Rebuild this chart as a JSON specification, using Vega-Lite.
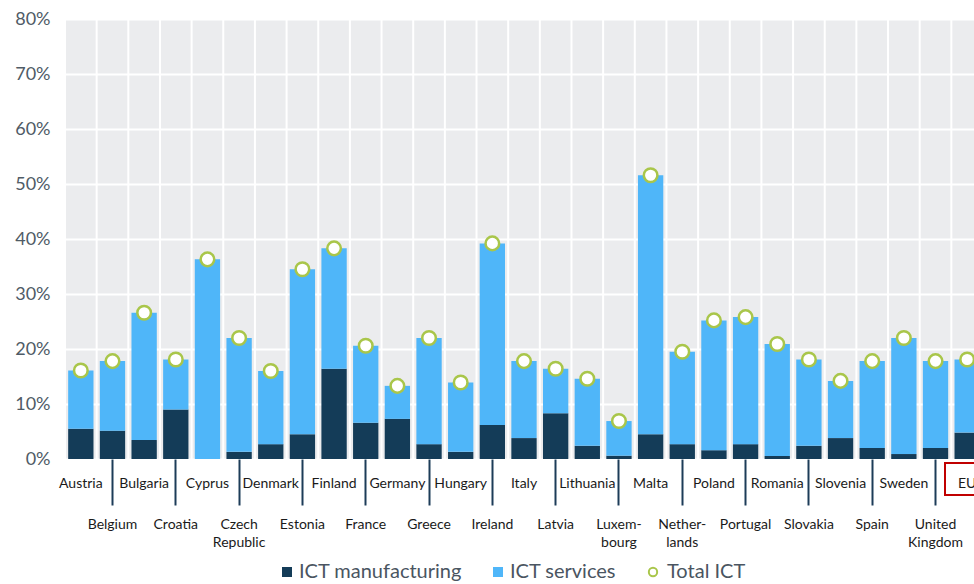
{
  "$schema": "https://vega.github.io/schema/vega-lite/v6.json",
  "width": 909,
  "height": 440,
  "autosize": {"type": "none"},
  "padding": {"left": 65, "top": 19, "right": 0, "bottom": 125},
  "background": "white",
  "config": {"view": {"fill": "#EBECEE", "stroke": null}, "font": "Lato"},
  "data": {"values": [
    {"country": "Austria", "manufacturing": 5.5, "services": 10.6, "total": 16.1},
    {"country": "Belgium", "manufacturing": 5.15, "services": 12.65, "total": 17.8},
    {"country": "Bulgaria", "manufacturing": 3.45, "services": 23.15, "total": 26.6},
    {"country": "Croatia", "manufacturing": 9.0, "services": 9.1, "total": 18.1},
    {"country": "Cyprus", "manufacturing": 0, "services": 36.3, "total": 36.3},
    {"country": "Czech Republic", "manufacturing": 1.3, "services": 20.7, "total": 22.0},
    {"country": "Denmark", "manufacturing": 2.7, "services": 13.3, "total": 16.0},
    {"country": "Estonia", "manufacturing": 4.5, "services": 30.0, "total": 34.5},
    {"country": "Finland", "manufacturing": 16.4, "services": 21.9, "total": 38.3},
    {"country": "France", "manufacturing": 6.6, "services": 14.0, "total": 20.6},
    {"country": "Germany", "manufacturing": 7.3, "services": 6.0, "total": 13.3},
    {"country": "Greece", "manufacturing": 2.7, "services": 19.3, "total": 22.0},
    {"country": "Hungary", "manufacturing": 1.3, "services": 12.6, "total": 13.9},
    {"country": "Ireland", "manufacturing": 6.2, "services": 33.0, "total": 39.2},
    {"country": "Italy", "manufacturing": 3.8, "services": 14.0, "total": 17.8},
    {"country": "Latvia", "manufacturing": 8.3, "services": 8.1, "total": 16.4},
    {"country": "Lithuania", "manufacturing": 2.4, "services": 12.2, "total": 14.6},
    {"country": "Luxembourg", "manufacturing": 0.6, "services": 6.3, "total": 6.9},
    {"country": "Malta", "manufacturing": 4.5, "services": 47.1, "total": 51.6},
    {"country": "Netherlands", "manufacturing": 2.7, "services": 16.8, "total": 19.5},
    {"country": "Poland", "manufacturing": 1.6, "services": 23.6, "total": 25.2},
    {"country": "Portugal", "manufacturing": 2.7, "services": 23.1, "total": 25.8},
    {"country": "Romania", "manufacturing": 0.55, "services": 20.35, "total": 20.9},
    {"country": "Slovakia", "manufacturing": 2.4, "services": 15.7, "total": 18.1},
    {"country": "Slovenia", "manufacturing": 3.8, "services": 10.4, "total": 14.2},
    {"country": "Spain", "manufacturing": 2.0, "services": 15.8, "total": 17.8},
    {"country": "Sweden", "manufacturing": 0.9, "services": 21.1, "total": 22.0},
    {"country": "United Kingdom", "manufacturing": 2.0, "services": 15.8, "total": 17.8},
    {"country": "EU", "manufacturing": 4.8, "services": 13.3, "total": 18.1}
  ]},
  "layer": [
    {
      "mark": {"type": "rule", "color": "white", "strokeWidth": 2},
      "encoding": {
        "x": {
          "field": "country", "type": "nominal", "sort": null, "bandPosition": -0.125,
          "scale": {"range": [0, 918], "paddingInner": 0.2, "paddingOuter": 0.1},
          "axis": {
            "title": null, "domain": false, "grid": false,
            "ticks": true,
            "tickWidth": 2, "tickColor": "#1d3c58",
            "tickSize": {"condition": {"test": "indexof(['Belgium','Croatia','Czech Republic','Estonia','France','Greece','Ireland','Latvia','Luxembourg','Netherlands','Portugal','Slovakia','Spain','United Kingdom'], datum.value) >= 0", "value": 46}, "value": 0},
            "labelPadding": {"condition": {"test": "indexof(['Belgium','Croatia','Czech Republic','Estonia','France','Greece','Ireland','Latvia','Luxembourg','Netherlands','Portugal','Slovakia','Spain','United Kingdom'], datum.value) >= 0", "value": 12}, "value": 17},
            "labelAngle": 0, "labelBaseline": "top", "labelAlign": "center",
            "labelFontSize": 14, "labelFont": "Lato", "labelColor": "#1a1a1a",
            "labelLineHeight": 18, "labelOverlap": false, "labelBound": false,
            "labelExpr": "datum.value == 'Czech Republic' ? ['Czech','Republic'] : datum.value == 'Luxembourg' ? ['Luxem-','bourg'] : datum.value == 'Netherlands' ? ['Nether-','lands'] : datum.value == 'United Kingdom' ? ['United','Kingdom'] : datum.label"
          }
        }
      }
    },
    {
      "transform": [{"fold": ["manufacturing", "services"], "as": ["series", "value"]}],
      "mark": {"type": "bar"},
      "encoding": {
        "x": {"field": "country", "type": "nominal", "sort": null},
        "y": {
          "field": "value", "type": "quantitative", "stack": "zero",
          "scale": {"domain": [0, 80], "nice": false},
          "axis": {
            "title": null, "values": [0, 10, 20, 30, 40, 50, 60, 70, 80],
            "labelExpr": "datum.value + '%'", "domain": false, "ticks": false,
            "grid": true, "gridColor": "white", "gridWidth": 2,
            "labelFontSize": 18, "labelFont": "Lato", "labelColor": "#4f5b66", "labelPadding": 15
          }
        },
        "order": {"field": "series", "type": "nominal", "sort": "ascending"},
        "color": {
          "field": "series", "type": "nominal",
          "scale": {"domain": ["manufacturing", "services"], "range": ["#143C58", "#4FB6F9"]},
          "legend": {
            "orient": "none", "legendX": 212, "legendY": 543, "direction": "horizontal",
            "title": null, "labelFontSize": 20, "labelFont": "Lato", "labelColor": "#4a5561",
            "labelLimit": 400, "columnPadding": 26, "labelOffset": 2,
            "symbolType": "square", "symbolSize": 100, "symbolStrokeWidth": 0,
            "labelExpr": "datum.label == 'manufacturing' ? 'ICT manufacturing' : 'ICT services'"
          }
        }
      }
    },
    {
      "mark": {"type": "point", "filled": false, "fill": "white", "size": 185, "strokeWidth": 2.5, "opacity": 1},
      "encoding": {
        "x": {"field": "country", "type": "nominal", "sort": null},
        "y": {"field": "total", "type": "quantitative"},
        "stroke": {
          "datum": "Total ICT", "type": "nominal",
          "scale": {"domain": ["Total ICT"], "range": ["#A9C64A"]},
          "legend": {
            "orient": "none", "legendX": 578, "legendY": 543, "direction": "horizontal",
            "title": null, "labelFontSize": 20, "labelFont": "Lato", "labelColor": "#4a5561",
            "labelLimit": 400, "labelOffset": 4,
            "symbolType": "circle", "symbolSize": 70, "symbolStrokeWidth": 2,
            "symbolFillColor": "white"
          }
        }
      }
    },
    {
      "mark": {"type": "bar", "fill": "transparent", "stroke": "#C00000", "strokeWidth": 1.5, "width": {"band": 1.75}},
      "encoding": {
        "x": {"datum": "EU", "type": "nominal"},
        "y": {"datum": -0.7},
        "y2": {"datum": -6.5}
      }
    }
  ]
}
